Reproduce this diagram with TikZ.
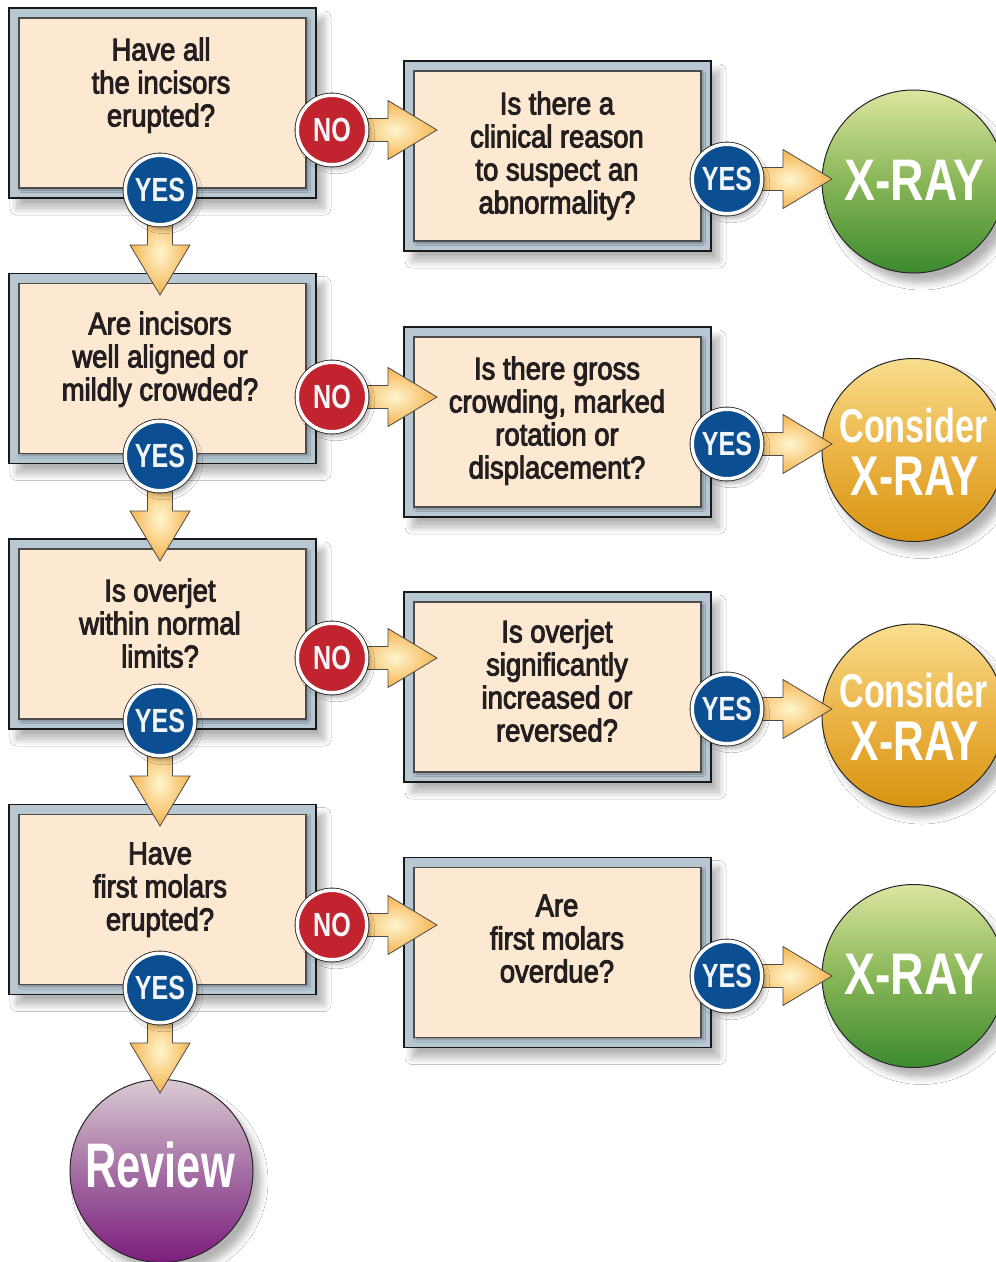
\documentclass[tikz,border=0pt]{standalone}
\usepackage{fontspec}
\setmainfont{Liberation Sans}
\newfontfamily\qfont[FakeStretch=0.87,FakeBold=3]{Liberation Sans}
\newfontfamily\yfont[FakeStretch=0.75]{Liberation Sans}
\newfontfamily\xfont[FakeStretch=0.79]{Liberation Sans}
\newfontfamily\cfont[FakeStretch=0.72]{Liberation Sans}
\newfontfamily\cxfont[FakeStretch=0.76]{Liberation Sans}
\newfontfamily\rfont[FakeStretch=0.69]{Liberation Sans}
\usetikzlibrary{calc,shadows.blur}
\definecolor{frameC}{HTML}{B8C8D3}
\definecolor{peach}{HTML}{FDE8D1}
\definecolor{txt}{HTML}{231F20}
\definecolor{yesB}{HTML}{0B4E92}
\definecolor{noR}{HTML}{C1242F}
\definecolor{arrIn}{HTML}{FFF6CF}
\definecolor{arrOut}{HTML}{F5B34F}
\definecolor{gTop}{HTML}{DCE6A0}
\definecolor{gMid}{HTML}{88B657}
\definecolor{gBot}{HTML}{3C8A2F}
\definecolor{oTop}{HTML}{F9DE8E}
\definecolor{oMid}{HTML}{EBB446}
\definecolor{oBot}{HTML}{D89410}
\definecolor{pTop}{HTML}{DACAD3}
\definecolor{pMid}{HTML}{A46FA4}
\definecolor{pBot}{HTML}{7C1D7D}
\definecolor{lbl}{HTML}{F3F6F9}
\newcommand\arrR[1]{\draw[arrowsty] ($(#1)+(20,11.5)$) -- ++(36,0) -- ++(0,18) -- ++(49,-29.5) -- ++(-49,-29.5) -- ++(0,18) -- ++(-36,0) -- cycle;}
\newcommand\arrD[1]{\draw[arrowsty] ($(#1)+(-12.5,-20)$) -- ++(0,-35) -- ++(-17.5,0) -- ++(30,-50) -- ++(30,50) -- ++(-17.5,0) -- ++(0,35) -- cycle;}
\begin{document}
\begin{tikzpicture}[x=1pt,y=1pt,
  frame/.style={rectangle, inner sep=0, outer sep=0, minimum width=307, minimum height=190, fill=frameC, draw=black!90, line width=1.5,
     blur shadow={shadow xshift=8pt, shadow yshift=-10pt, shadow opacity=30, shadow blur radius=7pt, shadow blur steps=10}},
  innerbox/.style={rectangle, inner sep=0, outer sep=0, minimum width=287, minimum height=170, fill=peach, draw=black!70, line width=1.2,
     blur shadow={shadow xshift=2pt, shadow yshift=-2pt, shadow opacity=35, shadow blur radius=2.5pt}},
  qtext/.style={align=center, anchor=north, inner sep=0, text=txt, font=\qfont\fontsize{31.5}{33}\selectfont},
  badge/.style={circle, inner sep=0, minimum size=69.5,
     blur shadow={shadow xshift=4pt, shadow yshift=-5pt, shadow opacity=30, shadow blur radius=4pt},
     preaction={draw=black!85, line width=5.2}, draw=white, line width=3.5, text=lbl,
     font=\yfont\bfseries\fontsize{33.5}{33.5}\selectfont},
  yes/.style={badge, fill=yesB},
  no/.style={badge, fill=noR},
  endc/.style={circle, inner sep=0, minimum size=183, draw=black!85, line width=1,
     blur shadow={shadow xshift=8pt, shadow yshift=-10pt, shadow opacity=30, shadow blur radius=7pt}},
  greenc/.style={endc, top color=gTop, bottom color=gBot, middle color=gMid},
  orangec/.style={endc, top color=oTop, bottom color=oBot, middle color=oMid},
  purplec/.style={endc, top color=pTop, bottom color=pBot, middle color=pMid},
  endtext/.style={anchor=base, inner sep=0, text=white},
  arrowsty/.style={draw=black!70, line width=0.8, inner color=arrIn, outer color=arrOut}
]
\useasboundingbox (0,0) rectangle (996,-1262);
\fill[white] (0,0) rectangle (996,-1262);

% left boxes
\node[frame] (L1f) at (162.5,-103) {};
\node[innerbox] (L1) at (162.5,-103) {};
\node[frame] (L2f) at (162.5,-368.5) {};
\node[innerbox] (L2) at (162.5,-368.5) {};
\node[frame] (L3f) at (162.5,-634) {};
\node[innerbox] (L3) at (162.5,-634) {};
\node[frame] (L4f) at (162.5,-899.5) {};
\node[innerbox] (L4) at (162.5,-899.5) {};
% right boxes
\node[frame] (R1f) at (557.5,-156) {};
\node[innerbox] (R1) at (557.5,-156) {};
\node[frame] (R2f) at (557.5,-422) {};
\node[innerbox] (R2) at (557.5,-422) {};
\node[frame] (R3f) at (557.5,-687) {};
\node[innerbox] (R3) at (557.5,-687) {};
\node[frame] (R4f) at (557.5,-952.5) {};
\node[innerbox] (R4) at (557.5,-952.5) {};
% end circles
\node[greenc] (E1) at (913.5,-181.5) {};
\node[orangec] (E2) at (913.5,-450) {};
\node[orangec] (E3) at (913.5,-715.5) {};
\node[greenc] (E4) at (913.5,-976) {};
\node[purplec] (E5) at (161.5,-1171) {};

% question texts
\node[qtext] (L1t) at (161,-37.4) {Have all\\the incisors\\erupted?};
\node[qtext] (L2t) at (160,-311.4) {Are incisors\\well aligned or\\mildly crowded?};
\node[qtext] (L3t) at (160,-578.4) {Is overjet\\within normal\\limits?};
\node[qtext] (L4t) at (160,-842.4) {Have\\first molars\\erupted?};
\node[qtext] (R1t) at (557,-91.4) {Is there a\\clinical reason\\to suspect an\\abnormality?};
\node[qtext] (R2t) at (557,-356.4) {Is there gross\\crowding, marked\\rotation or\\displacement?};
\node[qtext] (R3t) at (557,-619.4) {Is overjet\\significantly\\increased or\\reversed?};
\node[qtext] (R4t) at (557,-894.4) {Are\\first molars\\overdue?};

% end circle texts
\node[endtext, font=\xfont\bfseries\fontsize{58.7}{60}\selectfont] (E1t) at (914.5,-200) {X-RAY};
\node[endtext, font=\cfont\bfseries\fontsize{47.5}{48}\selectfont] (E2ta) at (913.5,-442) {Consider};
\node[endtext, font=\cxfont\bfseries\fontsize{56}{57}\selectfont] (E2tb) at (915,-495) {X-RAY};
\node[endtext, font=\cfont\bfseries\fontsize{47.5}{48}\selectfont] (E3ta) at (913.5,-707.5) {Consider};
\node[endtext, font=\cxfont\bfseries\fontsize{56}{57}\selectfont] (E3tb) at (915,-760.5) {X-RAY};
\node[endtext, font=\xfont\bfseries\fontsize{58.7}{60}\selectfont] (E4t) at (914.5,-994.5) {X-RAY};
\node[endtext, font=\rfont\bfseries\fontsize{63}{64}\selectfont] (E5t) at (160,-1187) {Review};

% badge centres
\coordinate (N1) at (332,-130);
\coordinate (N2) at (332,-397);
\coordinate (N3) at (332,-658);
\coordinate (N4) at (332,-925);
\coordinate (Y1) at (160,-190);
\coordinate (Y2) at (160,-456);
\coordinate (Y3) at (160,-721);
\coordinate (Y4) at (160,-988);
\coordinate (S1) at (727,-179);
\coordinate (S2) at (727,-444);
\coordinate (S3) at (727,-709);
\coordinate (S4) at (727,-976);

% arrows (under the badges)
\arrR{N1} \arrR{N2} \arrR{N3} \arrR{N4}
\arrR{S1} \arrR{S2} \arrR{S3} \arrR{S4}
\arrD{Y1} \arrD{Y2} \arrD{Y3} \arrD{Y4}

% badges
\node[no] (N1b) at (N1) {NO};
\node[no] (N2b) at (N2) {NO};
\node[no] (N3b) at (N3) {NO};
\node[no] (N4b) at (N4) {NO};
\node[yes] (Y1b) at (Y1) {YES};
\node[yes] (Y2b) at (Y2) {YES};
\node[yes] (Y3b) at (Y3) {YES};
\node[yes] (Y4b) at (Y4) {YES};
\node[yes] (S1b) at (S1) {YES};
\node[yes] (S2b) at (S2) {YES};
\node[yes] (S3b) at (S3) {YES};
\node[yes] (S4b) at (S4) {YES};
\end{tikzpicture}
\end{document}
